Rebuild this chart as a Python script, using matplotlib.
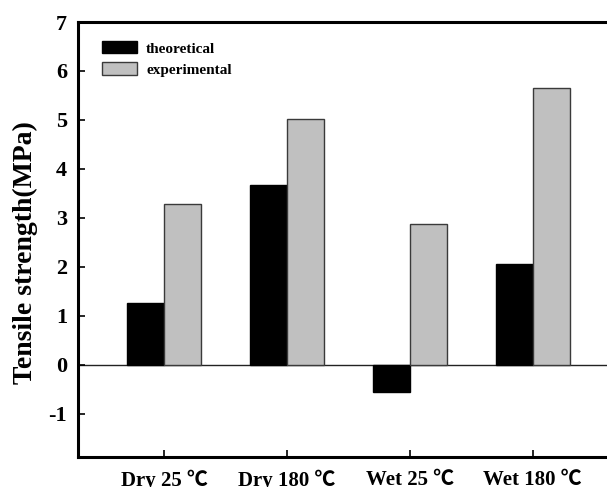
import matplotlib
matplotlib.use("Agg")
import matplotlib.pyplot as plt
import numpy as np

plt.rcParams['font.family'] = ['Liberation Serif', 'Noto Sans CJK SC']
plt.rcParams['font.weight'] = 'bold'
plt.rcParams['axes.unicode_minus'] = False

conditions = ['Dry 25 ℃', 'Dry 180 ℃', 'Wet 25 ℃', 'Wet 180 ℃']
theoretical = [1.26, 3.68, -0.55, 2.06]
experimental = [3.28, 5.03, 2.88, 5.65]

x = np.arange(1, len(conditions) + 1)
w = 0.30

fig = plt.figure(figsize=(6.07, 4.87), dpi=100)
ax = fig.add_axes([0.1285, 0.0616, 0.891, 0.8932])

ax.bar(x - w / 2, theoretical, w, color='black', edgecolor='black', linewidth=1, label='theoretical')
ax.bar(x + w / 2, experimental, w, color='#c0c0c0', edgecolor='#3a3a3a', linewidth=1, label='experimental')
ax.axhline(0, color='#222222', linewidth=1, zorder=0)

ax.set_xlim(0.3, 4.7)
ax.set_ylim(-1.88, 7)
ax.set_yticks(range(-1, 8))
ax.set_xticks(x)
ax.set_xticklabels(conditions, fontsize=15, fontweight='bold')
ax.tick_params(axis='y', labelsize=16, direction='in', length=5, width=1.2, pad=8)
ax.tick_params(axis='x', direction='in', length=5, width=1.2, pad=9)
for t in ax.get_yticklabels():
    t.set_fontweight('bold')

ax.set_ylabel('Tensile strength(MPa)', fontsize=20, fontweight='bold')
ax.yaxis.set_label_coords(-0.074, 0.469)

for s in ['left', 'bottom', 'top']:
    ax.spines[s].set_linewidth(2.2)
ax.spines['right'].set_visible(False)

ax.legend(loc='upper left', bbox_to_anchor=(0.044, 0.956), frameon=False,
          prop={'size': 11, 'weight': 'bold'}, borderpad=0, borderaxespad=0,
          handlelength=2.3, handleheight=0.85, handletextpad=0.6, labelspacing=0.45)

plt.savefig('out.png', dpi=100)
